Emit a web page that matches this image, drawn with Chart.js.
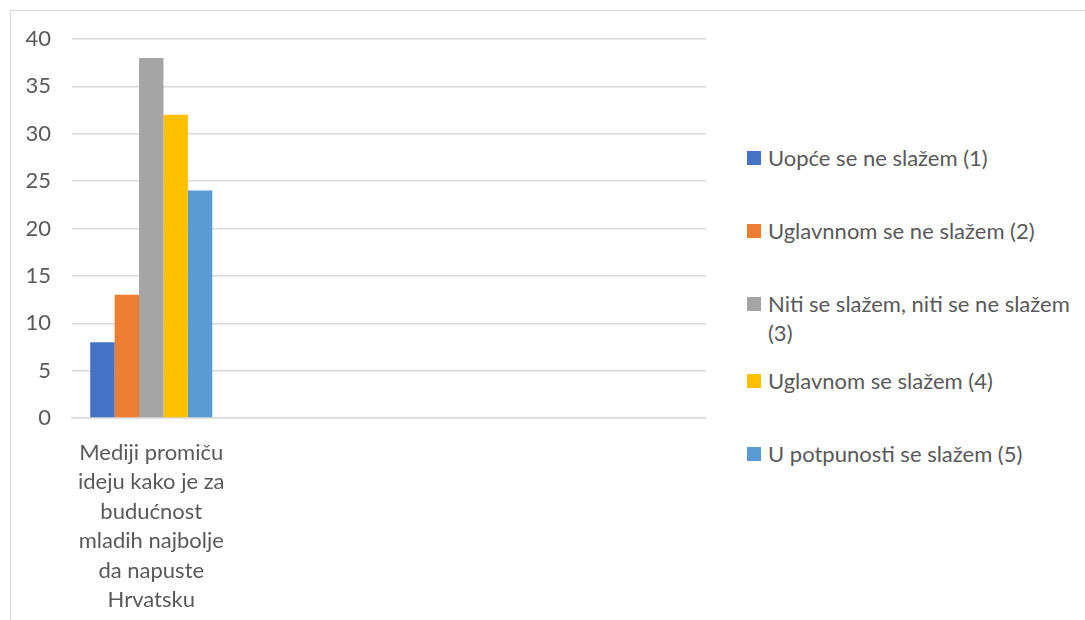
<!DOCTYPE html>
<html>
<head>
<meta charset="utf-8">
<script src="https://cdn.jsdelivr.net/npm/chart.js@4"></script>
<style>
  body { margin: 0; background: #fff; font-family: Lato, "Open Sans", sans-serif; }
  #frame {
    position: absolute; left: 10px; top: 10px; right: -10px; bottom: -10px;
    border-top: 1px solid #d9d9d9; border-left: 1px solid #d9d9d9;
  }
  #chartBox { position: absolute; left: 0; top: 0; width: 706px; height: 620px; }
  #legend { position: absolute; left: 747px; top: 0; width: 330px; }
  .item { position: absolute; left: 0; width: 330px; display: flex; align-items: flex-start;
          color: #595959; font-size: 22px; line-height: 29px; }
  .swatch { width: 14px; height: 14px; flex: none; margin-top: 8px; margin-right: 7px; }
</style>
</head>
<body>
<div id="frame"></div>
<div id="chartBox"><canvas id="surveyChart"></canvas></div>
<div id="legend"></div>
<script>
// Survey answers for one statement, counts per answer option
const categories = [
  ["Mediji promiču", "ideju kako je za", "budućnost", "mladih najbolje", "da napuste", "Hrvatsku"],
  "", "", ""
];
const seriesNames = [
  "Uopće se ne slažem (1)",
  "Uglavnnom se ne slažem (2)",
  "Niti se slažem, niti se ne slažem (3)",
  "Uglavnom se slažem (4)",
  "U potpunosti se slažem (5)"
];
const seriesValues = [[8], [13], [38], [32], [24]];
const seriesColors = ["#4472C4", "#ED7D31", "#A5A5A5", "#FFC000", "#5B9BD5"];
const yTicks = [0, 5, 10, 15, 20, 25, 30, 35, 40];

const textColor = "#595959";
const gridColor = "#d9d9d9";

const ctx = document.getElementById("surveyChart").getContext("2d");

const surveyChart = new Chart(ctx, {
  type: "bar",
  data: {
    labels: categories,
    datasets: seriesNames.map((name, i) => ({
      label: name,
      data: seriesValues[i],
      backgroundColor: seriesColors[i],
      barPercentage: 1,
      categoryPercentage: 0.77
    }))
  },
  options: {
    responsive: true,
    maintainAspectRatio: false,
    animation: false,
    layout: { padding: { top: 39, left: 0, right: 0, bottom: 0 } },
    plugins: {
      legend: { display: false },
      tooltip: { enabled: false }
    },
    scales: {
      x: {
        grid: { display: false, drawTicks: false },
        border: { color: gridColor, width: 1.5 },
        ticks: {
          color: textColor,
          font: { family: "Lato", size: 22, lineHeight: 1.34 },
          padding: 20,
          maxRotation: 0,
          autoSkip: false
        },
        afterFit: scale => { scale.height = 202; }
      },
      y: {
        min: yTicks[0],
        max: yTicks[yTicks.length - 1],
        afterBuildTicks: scale => { scale.ticks = yTicks.map(v => ({ value: v })); },
        grid: { color: gridColor, lineWidth: 1.5, drawTicks: false },
        border: { display: false },
        ticks: {
          color: textColor,
          font: { family: "Lato", size: 22 },
          padding: 21
        },
        afterFit: scale => { scale.width = 72; }
      }
    }
  }
});

// Legend on the right, built from the chart datasets
const legendTops = [143, 216, 289, 366, 439];
const legendBox = document.getElementById("legend");
surveyChart.data.datasets.forEach((ds, i) => {
  const item = document.createElement("div");
  item.className = "item";
  item.style.top = legendTops[i] + "px";
  item.innerHTML = `<span class="swatch" style="background:${ds.backgroundColor}"></span><span>${ds.label}</span>`;
  legendBox.appendChild(item);
});
</script>
</body>
</html>
